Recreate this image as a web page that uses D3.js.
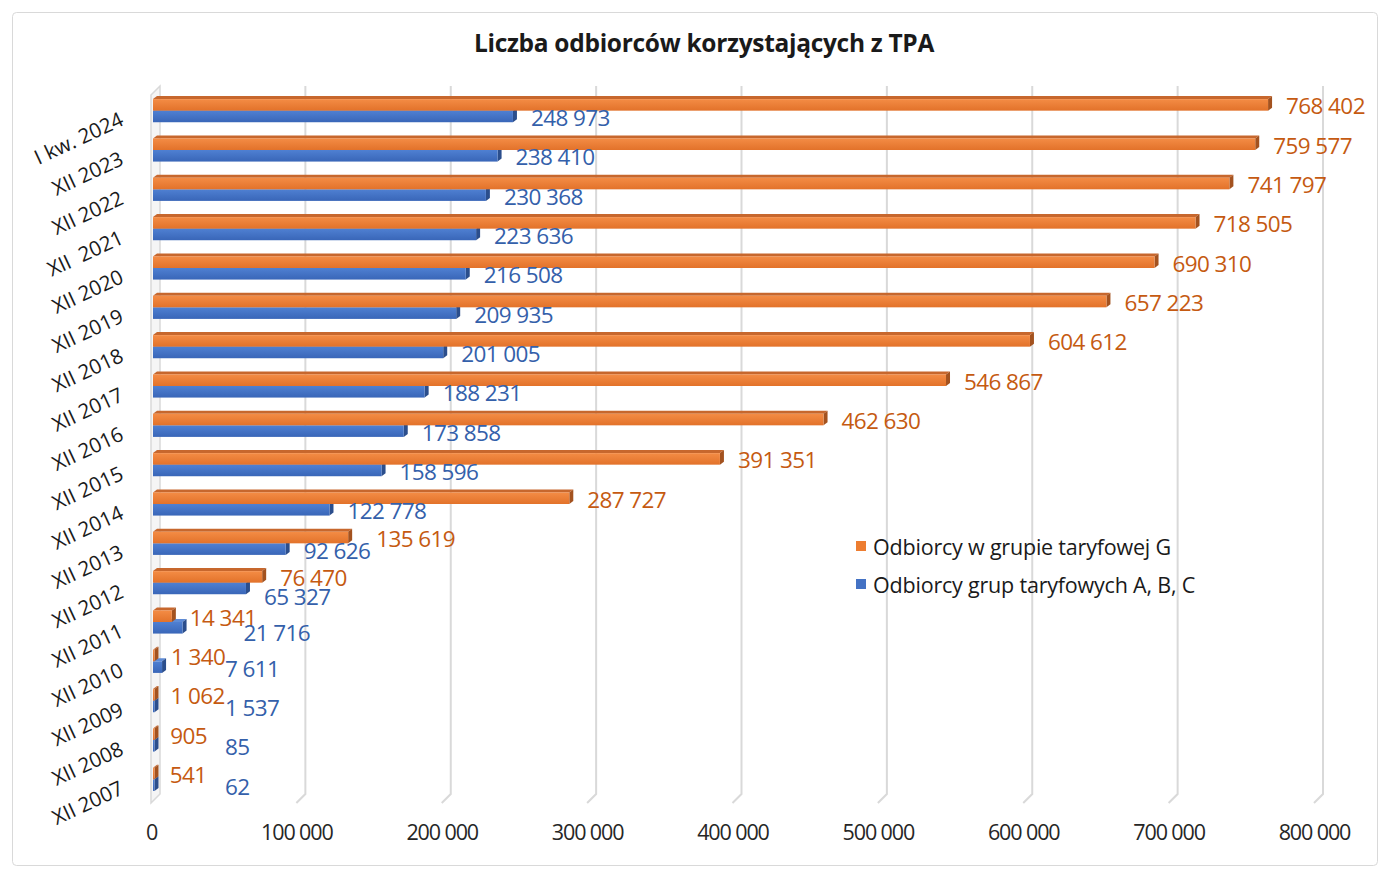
<!DOCTYPE html>
<html>
<head>
<meta charset="utf-8">
<script src="https://cdn.jsdelivr.net/npm/d3@7"></script>
<style>
  body { margin: 0; background: #fff; }
  svg { display: block; font-family: "Open Sans", sans-serif; }
</style>
</head>
<body>
<div id="chart"></div>
<script>
// categories bottom -> top, as in the reference
var categories = ["XII 2007", "XII 2008", "XII 2009", "XII 2010", "XII 2011", "XII 2012",
  "XII 2013", "XII 2014", "XII 2015", "XII 2016", "XII 2017", "XII 2018", "XII 2019",
  "XII 2020", "XII  2021", "XII 2022", "XII 2023", "I kw. 2024"];

var seriesG = [541, 905, 1062, 1340, 14341, 76470, 135619, 287727, 391351, 462630,
  546867, 604612, 657223, 690310, 718505, 741797, 759577, 768402];

var seriesABC = [62, 85, 1537, 7611, 21716, 65327, 92626, 122778, 158596, 173858,
  188231, 201005, 209935, 216508, 223636, 230368, 238410, 248973];

var seriesNames = ["Odbiorcy w grupie taryfowej G", "Odbiorcy grup taryfowych A, B, C"];
var xTicks = [0, 100000, 200000, 300000, 400000, 500000, 600000, 700000, 800000];
var title = "Liczba odbiorców korzystających z TPA";

var width = 1386, height = 869;
var depthX = 9, depthY = 9;     // back wall offset
var barDX = 4, barDY = 3;       // bar depth

var svg = d3.select("#chart").append("svg")
    .attr("width", width)
    .attr("height", height);

var defs = svg.append("defs");
function grad(id, c1, c2) {
  var g = defs.append("linearGradient").attr("id", id)
      .attr("x1", 0).attr("y1", 0).attr("x2", 0).attr("y2", 1);
  g.append("stop").attr("offset", "0%").attr("stop-color", c1);
  g.append("stop").attr("offset", "100%").attr("stop-color", c2);
}
grad("gOrange", "#F48C45", "#E2722A");
grad("gBlue", "#4F80D2", "#3966B8");

// chart frame
svg.append("rect")
    .attr("x", 12.5).attr("y", 12.5)
    .attr("width", 1365).attr("height", 853)
    .attr("rx", 4)
    .attr("fill", "#fff")
    .attr("stroke", "#d9d9d9");

svg.append("text")
    .attr("x", 704).attr("y", 42)
    .attr("text-anchor", "middle")
    .attr("dominant-baseline", "central")
    .attr("font-weight", "bold")
    .attr("font-size", 24.5)
    .attr("letter-spacing", -0.3)
    .attr("fill", "#1a1a1a")
    .text(title);

var x = d3.scaleLinear().domain([0, 800000]).range([151, 1314]);
var y = d3.scaleBand().domain(categories).range([799, 91]);
var sub = d3.scaleBand().domain(["G", "ABC"]).range([0, y.bandwidth()]).paddingOuter(0.7);

var gridTop = 86, gridBottom = 794;

// left wall
svg.append("path")
    .attr("d", "M" + x(0) + "," + (gridTop + depthY) + "L" + (x(0) + depthX) + "," + gridTop +
      "L" + (x(0) + depthX) + "," + gridBottom + "L" + x(0) + "," + (gridBottom + depthY) + "Z")
    .attr("fill", "#f5f5f5")
    .attr("stroke", "#d9d9d9")
    .attr("stroke-width", 1.5);

// gridlines on back wall + floor diagonals
var grid = svg.append("g").attr("fill", "none").attr("stroke", "#d9d9d9").attr("stroke-width", 2);
grid.selectAll("path").data(xTicks.slice(1)).enter().append("path")
    .attr("d", function(d) {
      var bx = x(d) + depthX;
      return "M" + bx + "," + gridTop + "L" + bx + "," + gridBottom +
        "L" + x(d) + "," + (gridBottom + depthY);
    });

// x tick labels
var xAxis = d3.axisBottom(x).tickValues(xTicks).tickSize(0).tickPadding(0)
    .tickFormat(function(d) { return d3.format(",")(d).replace(/,/g, " "); });
var xg = svg.append("g").attr("transform", "translate(0,825)").call(xAxis);
xg.select(".domain").remove();
xg.selectAll("text")
    .attr("font-family", "Open Sans, sans-serif")
    .attr("font-size", 21.5)
    .attr("letter-spacing", -1.1)
    .attr("fill", "#262626");

// category labels
svg.append("g").selectAll("text").data(categories).enter().append("text")
    .attr("transform", function(d) {
      return "translate(125," + (y(d) + y.bandwidth() / 2 + 14) + ") rotate(-25)";
    })
    .attr("text-anchor", "end")
    .attr("font-size", 20.5)
    .attr("fill", "#1a1a1a")
    .style("white-space", "pre")
    .text(function(d) { return d; });

function bar(g, v, yTop, h, fill, topC, sideC) {
  var x0 = x(0) + 2, x1 = Math.max(x(v), x0 + 1.5);
  g.append("path")
      .attr("d", "M" + x0 + "," + yTop + "L" + x1 + "," + yTop + "L" + (x1 + barDX) + "," + (yTop - barDY) +
        "L" + (x0 + barDX) + "," + (yTop - barDY) + "Z")
      .attr("fill", topC);
  g.append("path")
      .attr("d", "M" + x1 + "," + yTop + "L" + (x1 + barDX) + "," + (yTop - barDY) +
        "L" + (x1 + barDX) + "," + (yTop + h - barDY) + "L" + x1 + "," + (yTop + h) + "Z")
      .attr("fill", sideC);
  g.append("rect")
      .attr("x", x0).attr("y", yTop)
      .attr("width", x1 - x0).attr("height", h)
      .attr("fill", fill);
}

var fmt = function(v) { return d3.format(",")(v).replace(/,/g, " "); };

var bars = svg.append("g");
categories.forEach(function(c, i) {
  var g = bars.append("g");
  var yB = y(c) + sub("ABC"), yO = y(c) + sub("G");
  var h = sub.bandwidth();
  bar(g, seriesABC[i], yB, h, "url(#gBlue)", "#5E8BD6", "#2B4E8C");
  bar(g, seriesG[i], yO, h, "url(#gOrange)", "#C7672D", "#A3521F");
});

var labels = svg.append("g").attr("font-size", 22.5).attr("dominant-baseline", "central")
    .attr("letter-spacing", -0.6);
var gLab = labels.selectAll("text.g").data(categories).enter().append("text")
    .attr("class", "g")
    .attr("x", function(d, i) { return x(seriesG[i]) + 18; })
    .attr("y", function(d) { return y(d) + sub("G") + sub.bandwidth() / 2 + 1; })
    .attr("fill", "#C55A11")
    .text(function(d, i) { return fmt(seriesG[i]); });
var bLab = labels.selectAll("text.abc").data(categories).enter().append("text")
    .attr("class", "abc")
    .attr("x", function(d, i) { return Math.max(x(seriesABC[i]) + 18, x(0) + 74); })
    .attr("y", function(d) { return y(d) + sub("ABC") + sub.bandwidth() / 2 + 1; })
    .attr("fill", "#3460AA")
    .text(function(d, i) { return fmt(seriesABC[i]); });

// resolve collisions between the two labels of a category
bLab.each(function(d, i) {
  var oNode = gLab.nodes()[i];
  var ob = oNode.getBBox(), bb = this.getBBox();
  var sel = d3.select(this), osel = d3.select(oNode);
  var overlapX = bb.x < ob.x + ob.width - 2 && bb.x + bb.width > ob.x + 2;
  if (!overlapX) return;
  if (bb.x + bb.width < ob.x + 12) {
    // blue ends just inside the orange: push orange right
    osel.attr("x", bb.x + bb.width + 6);
  } else if (bb.x < ob.x) {
    sel.attr("y", +sel.attr("y") + 7);
  } else {
    sel.attr("x", ob.x + ob.width - 13).attr("y", +sel.attr("y") + 4);
  }
});

// legend
var legend = svg.append("g").attr("transform", "translate(856,546)");
var lcol = ["#ED7D31", "#4472C4"];
seriesNames.forEach(function(n, i) {
  legend.append("rect").attr("x", 0).attr("y", i * 38 - 5).attr("width", 10).attr("height", 10).attr("fill", lcol[i]);
  legend.append("text").attr("x", 17).attr("y", i * 38)
      .attr("dominant-baseline", "central")
      .attr("font-size", 21.5)
      .attr("letter-spacing", -0.2)
      .attr("fill", "#1a1a1a")
      .text(n);
});
</script>
</body>
</html>
